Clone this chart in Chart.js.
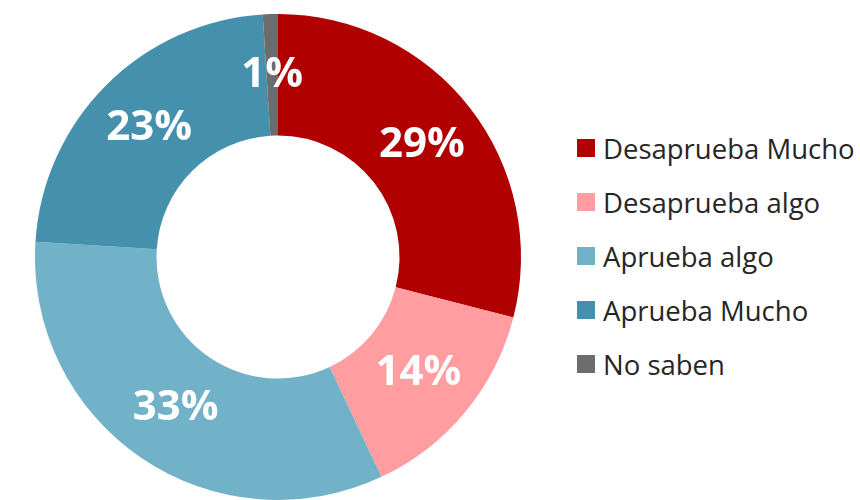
<!DOCTYPE html>
<html>
<head>
<meta charset="utf-8">
<script src="https://cdn.jsdelivr.net/npm/chart.js@4/dist/chart.umd.min.js"></script>
<style>
  html, body { margin: 0; padding: 0; background: #fff; }
  #wrap { position: relative; width: 860px; height: 500px; }
  #holder { position: absolute; left: 0; top: 0; width: 556px; height: 500px; }
  #legend { position: absolute; left: 577px; top: 121px; margin: 0; padding: 0; list-style: none;
    font-family: "Open Sans", "Noto Sans", sans-serif; font-size: 27.5px; color: #262626; }
  #legend li { height: 54px; display: flex; align-items: center; white-space: nowrap; }
  #legend span { display: inline-block; width: 18px; height: 18px; margin-right: 8px; }
</style>
</head>
<body>
<div id="wrap">
  <div id="holder"><canvas id="chart"></canvas></div>
  <ul id="legend"></ul>
</div>
<script>
'use strict';

var categories = ['Desaprueba Mucho', 'Desaprueba algo', 'Aprueba algo', 'Aprueba Mucho', 'No saben'];
var values = [29, 14, 33, 23, 1];
var colors = ['#B00000', '#FF9DA1', '#72B2C9', '#4590AD', '#6C6C6C'];

//
// Write the percentage inside every slice, at the slice centre.
//
var sliceLabels = {
  id: 'sliceLabels',
  afterDatasetsDraw: function draw(chart) {
    var ctx = chart.ctx
      , meta = chart.getDatasetMeta(0);

    ctx.save();
    ctx.fillStyle = '#fff';
    ctx.font = 'bold 42px "Open Sans", "Noto Sans", sans-serif';
    ctx.textAlign = 'center';
    ctx.textBaseline = 'middle';
    meta.data.forEach(function each(arc, i) {
      var p = arc.getCenterPoint();
      ctx.fillText(values[i] + '%', p.x, p.y);
    });
    ctx.restore();
  }
};

//
// Build the legend next to the canvas from the chart's own data.
//
var htmlLegend = {
  id: 'htmlLegend',
  afterUpdate: function update(chart) {
    var list = document.getElementById('legend');
    list.innerHTML = '';
    chart.data.labels.forEach(function each(label, i) {
      var li = document.createElement('li')
        , box = document.createElement('span');
      box.style.background = chart.data.datasets[0].backgroundColor[i];
      li.appendChild(box);
      li.appendChild(document.createTextNode(label));
      list.appendChild(li);
    });
  }
};

new Chart(document.getElementById('chart'), {
  type: 'doughnut',
  data: {
    labels: categories,
    datasets: [{
      data: values,
      backgroundColor: colors,
      borderWidth: 0
    }]
  },
  options: {
    responsive: true,
    maintainAspectRatio: false,
    animation: false,
    cutout: '50%',
    layout: { padding: { top: 14, bottom: 0, left: 0, right: 0 } },
    plugins: {
      legend: { display: false },
      tooltip: { enabled: false }
    }
  },
  plugins: [sliceLabels, htmlLegend]
});
</script>
</body>
</html>
